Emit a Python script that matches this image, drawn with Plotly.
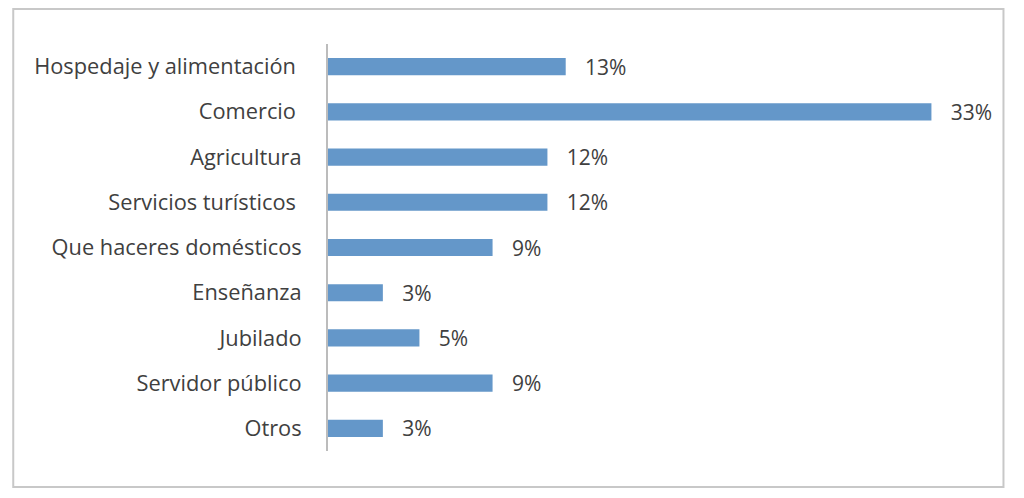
import plotly.graph_objects as go

categories = ["Hospedaje y alimentación ", "Comercio ", "Agricultura", "Servicios turísticos ",
              "Que haceres domésticos", "Enseñanza", "Jubilado", "Servidor público", "Otros"]
values = [13, 33, 12, 12, 9, 3, 5, 9, 3]
value_labels = ["13%", "33%", "12%", "12%", "9%", "3%", "5%", "9%", "3%"]

# page has an 8px body margin; figure coordinates = page coordinates - 8
W, H = 1016, 490
L, R, T, B = 320, 55.5, 36, 47
pw, ph = W - L - R, H - T - B

FONT = "Open Sans"
FS = 21

fig = go.Figure(go.Bar(
    x=values, y=categories, orientation="h",
    marker=dict(color="#6497c9", line=dict(width=0)),
    width=0.38,
    text=["\u00a0\u00a0\u00a0" + t for t in value_labels],
    textposition="outside", cliponaxis=False, constraintext="none",
    textfont=dict(family=FONT, size=FS, color="#404040"),
))

def px2paper_x(p):
    return (p - L) / pw

def px2paper_y(p):
    return (H - B - p) / ph

fig.add_shape(type="rect", xref="paper", yref="paper",
              x0=px2paper_x(5), x1=px2paper_x(996), y0=px2paper_y(479), y1=px2paper_y(1),
              line=dict(color="#c8c8c8", width=2), fillcolor="rgba(0,0,0,0)", layer="below")

fig.update_layout(
    width=W, height=H,
    margin=dict(l=L, r=R, t=T, b=B, autoexpand=False),
    paper_bgcolor="white", plot_bgcolor="white",
    showlegend=False,
    font=dict(family=FONT, size=FS, color="#404040"),
    xaxis=dict(range=[0, 35], visible=False, showgrid=False, zeroline=False),
    yaxis=dict(autorange="reversed", showline=True, linecolor="#bcbcbc", linewidth=2,
               ticks="", showgrid=False, ticklabelstandoff=20,
               tickfont=dict(family=FONT, size=21.8, color="#404040")),
)

fig.write_html("out.html")
